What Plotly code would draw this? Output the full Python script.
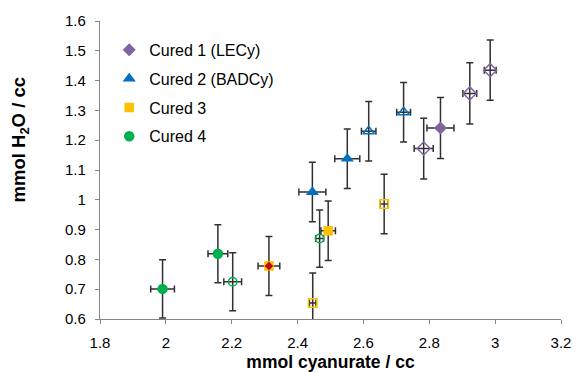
import plotly.graph_objects as go

# ---- data ----
c1_filled_x = [2.834]
c1_filled_y = [1.241]
c1_filled_ex = [0.041]
c1_filled_ey = [0.102]

c1_open_x = [2.783, 2.923, 2.985]
c1_open_y = [1.172, 1.357, 1.435]
c1_open_ex = [0.029, 0.021, 0.018]
c1_open_ey = [0.102, 0.103, 0.101]

c2_filled_x = [2.445, 2.551]
c2_filled_y = [1.026, 1.138]
c2_filled_ex = [0.041, 0.038]
c2_filled_ey = [0.100, 0.100]

c2_open_x = [2.616, 2.722]
c2_open_y = [1.230, 1.294]
c2_open_ex = [0.022, 0.021]
c2_open_ey = [0.100, 0.100]

c3_filled_x = [2.493, 2.313]
c3_filled_y = [0.896, 0.778]
c3_filled_ex = [0.022, 0.033]
c3_filled_ey = [0.100, 0.099]

c3_open_x = [2.663, 2.446]
c3_open_y = [0.986, 0.654]
c3_open_ex = [0.012, 0.010]
c3_open_ey = [0.100, 0.100]

red_x = [2.313]
red_y = [0.778]

c4_filled_x = [1.990, 2.158]
c4_filled_y = [0.701, 0.819]
c4_filled_ex = [0.036, 0.030]
c4_filled_ey = [0.098, 0.097]

c4_open_x = [2.203, 2.467]
c4_open_y = [0.725, 0.870]
c4_open_ex = [0.027, 0.012]
c4_open_ey = [0.097, 0.096]

names = ["Cured 1 (LECy)", "Cured 2 (BADCy)", "Cured 3", "Cured 4"]
colors = ["#8064A2", "#0070C0", "#FFC000", "#00B050"]
x_title = "mmol cyanurate / cc"
y_title = "mmol H<sub>2</sub>O / cc"

ERR = "#303030"
FONT = "Arial, Liberation Sans, sans-serif"


def err(arr):
    return dict(type="data", array=arr, color=ERR, thickness=1.5, width=3.5)


fig = go.Figure()

groups = [
    (c1_filled_x, c1_filled_y, c1_filled_ex, c1_filled_ey,
     c1_open_x, c1_open_y, c1_open_ex, c1_open_ey, "diamond", 10, 10),
    (c2_filled_x, c2_filled_y, c2_filled_ex, c2_filled_ey,
     c2_open_x, c2_open_y, c2_open_ex, c2_open_ey, "triangle-up", 11.5, 10),
    (c3_filled_x, c3_filled_y, c3_filled_ex, c3_filled_ey,
     c3_open_x, c3_open_y, c3_open_ex, c3_open_ey, "square", 9.5, 8.5),
    (c4_filled_x, c4_filled_y, c4_filled_ex, c4_filled_ey,
     c4_open_x, c4_open_y, c4_open_ex, c4_open_ey, "circle", 10.5, 8.5),
]

for i, g in enumerate(groups):
    fx, fy, fex, fey, ox, oy, oex, oey, sym, fs, osz = g
    fig.add_trace(go.Scatter(
        x=ox, y=oy, mode="markers", showlegend=False,
        legendgroup=f"g{i}",
        error_x=err(oex), error_y=err(oey),
        marker=dict(symbol=sym + "-open", size=osz, color=colors[i],
                    line=dict(width=1.5, color=colors[i])),
    ))

for i, g in enumerate(groups):
    fx, fy, fex, fey, ox, oy, oex, oey, sym, fs, osz = g
    fig.add_trace(go.Scatter(
        x=fx, y=fy, mode="markers", name=names[i],
        legendgroup=f"g{i}",
        error_x=err(fex), error_y=err(fey),
        marker=dict(symbol=sym, size=fs, color=colors[i], line=dict(width=0)),
    ))

fig.add_trace(go.Scatter(
    x=red_x, y=red_y, mode="markers", showlegend=False,
    marker=dict(symbol="diamond", size=6.5, color="#C00000", line=dict(width=0)),
))

axis_common = dict(
    showgrid=False, zeroline=False, showline=True, linecolor="#868686",
    linewidth=1.3, ticks="outside", tickcolor="#868686", ticklen=4,
    tickwidth=1, tickfont=dict(family=FONT, size=15, color="#000000"),
    automargin=False,
)

fig.update_layout(
    width=577, height=372,
    margin=dict(l=100, r=15.5, t=20.5, b=53),
    plot_bgcolor="white", paper_bgcolor="white",
    font=dict(family=FONT, color="#000000"),
    xaxis=dict(range=[1.8, 3.2], dtick=0.2, tick0=1.8, ticklabelstandoff=6,
               title=dict(text=f"<b>{x_title}</b>", standoff=6,
                          font=dict(size=17.5, family=FONT)),
               **axis_common),
    yaxis=dict(range=[0.6, 1.6], dtick=0.1, tick0=0.6, ticklabelstandoff=6,
               **axis_common),
    legend=dict(x=0.02, y=0.96, xanchor="left", yanchor="top",
                bgcolor="rgba(0,0,0,0)", traceorder="grouped", tracegroupgap=5,
                font=dict(size=16, family=FONT),
                itemwidth=30),
    annotations=[dict(
        text=f"<b>{y_title}</b>", textangle=-90, showarrow=False,
        xref="paper", yref="paper", x=-0.173, y=0.60,
        xanchor="center", yanchor="middle",
        font=dict(size=18.5, family=FONT, color="#000000"),
    )],
)

fig.write_html("out.html")
